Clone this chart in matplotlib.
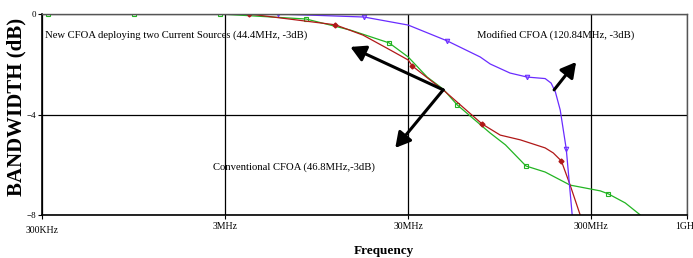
import numpy as np
import matplotlib
matplotlib.use('Agg')
import matplotlib.pyplot as plt
from matplotlib.transforms import ScaledTranslation

plt.rcParams['font.family'] = ['Liberation Serif', 'DejaVu Serif']

# frequency (Hz) / gain (dB)
conv_f = [3.0e5, 3.23e5, 9.55e5, 2.82e6, 8.31e6, 1.45e7, 2.36e7, 3.0e7, 3.81e7, 4.66e7,
          5.56e7, 8.42e7, 1.02e8, 1.32e8, 1.68e8, 2.30e8, 3.36e8, 3.72e8, 4.6e8, 5.56e8]
conv_db = [0, 0, 0, 0, -0.2, -0.64, -1.15, -1.71, -2.51, -2.99,
           -3.62, -4.74, -5.21, -6.05, -6.29, -6.81, -7.04, -7.16, -7.52, -8.0]
conv_mk = [1, 2, 3, 4, 6, 10, 13, 17]

new_f = [3.0e5, 4.05e6, 1.2e7, 1.70e7, 2.39e7, 3.0e7, 3.16e7, 3.96e7, 4.66e7, 7.61e7,
         9.55e7, 1.23e8, 1.68e8, 1.86e8, 2.06e8, 2.30e8, 2.48e8, 2.61e8]
new_db = [0, 0, -0.43, -0.84, -1.43, -1.83, -2.07, -2.63, -3.02, -4.38,
          -4.82, -5.01, -5.33, -5.53, -5.85, -6.81, -7.52, -8.0]
new_mk = [1, 2, 6, 9, 14]

mod_f = [3.0e5, 5.84e6, 1.72e7, 3.0e7, 4.9e7, 7.42e7, 8.42e7, 1.08e8, 1.34e8, 1.68e8,
         1.81e8, 1.91e8, 2.03e8, 2.19e8, 2.36e8]
mod_db = [0, 0, -0.12, -0.44, -1.07, -1.71, -1.99, -2.35, -2.51, -2.57,
          -2.75, -3.10, -3.82, -5.37, -8.0]
mod_mk = [1, 2, 4, 8, 13]

xticks = [3e5, 3e6, 3e7, 3e8, 1e9]
xlabels = ['300KHz', '3MHz', '30MHz', '300MHz', '1GHz']
yticks = [0, -4, -8]

fig = plt.figure(figsize=(6.93, 2.58), dpi=100)
ax = fig.add_axes([42/693, 1-215/258, 645/693, 201/258])

ax.plot(conv_f, conv_db, color='#22b422', lw=0.9, marker='s', ms=3.2, mfc='none',
        mec='#22b422', mew=0.8, markevery=conv_mk)
ax.plot(new_f, new_db, color='#b01818', lw=0.9, marker='D', ms=2.5, mfc='#b01818',
        mec='#b01818', markevery=new_mk)
ax.plot(mod_f, mod_db, color='#6a2cff', lw=0.9, marker='v', ms=3.2, mfc='none',
        mec='#6a2cff', mew=0.8, markevery=mod_mk)

ax.set_xscale('log')
ax.set_xlim(3e5, 1e9)
ax.set_ylim(-8, 0)
ax.set_xticks(xticks)
ax.set_xticklabels(xlabels)
ax.minorticks_off()
ax.set_yticks(yticks)
ax.tick_params(axis='both', labelsize=7, length=3, width=0.8, pad=2, color='black')
ax.tick_params(axis='y', labelsize=6.5, pad=1)
ax.grid(True, color='black', lw=0.9)
for s in ['left', 'bottom']:
    ax.spines[s].set_linewidth(1.2)
for s in ['top', 'right']:
    ax.spines[s].set_color('#555555')
    ax.spines[s].set_linewidth(1.0)

# first label sits a little lower in the original
lab0 = ax.get_xticklabels()[0]
lab0.set_transform(lab0.get_transform() + ScaledTranslation(0, -3/72, fig.dpi_scale_trans))

fig.text(384/693, 1-251/258, 'Frequency', fontsize=9.5, fontweight='bold',
         ha='center', va='center')
fig.text(16/693, 1-107/258, 'BANDWIDTH (dB)', fontsize=15, fontweight='bold',
         ha='center', va='center', rotation=90)

ax.text(3.11e5, -0.84, 'New CFOA deploying two Current Sources (44.4MHz, -3dB)',
        fontsize=7.7, va='center', ha='left')
ax.text(7.14e7, -0.84, 'Modified CFOA (120.84MHz, -3dB)', fontsize=7.7, va='center', ha='left')
ax.text(2.58e6, -6.09, 'Conventional CFOA (46.8MHz,-3dB)', fontsize=7.7, va='center', ha='left')

arr = dict(arrowstyle='-|>,head_length=0.9,head_width=0.5', lw=2.2, color='black',
           shrinkA=0, shrinkB=0)
ax.annotate('', xy=(1.45e7, -1.31), xytext=(4.66e7, -3.02), arrowprops=arr)
ax.annotate('', xy=(2.55e7, -5.33), xytext=(4.66e7, -3.02), arrowprops=arr)
ax.annotate('', xy=(2.48e8, -1.91), xytext=(1.88e8, -3.02), arrowprops=arr)

fig.savefig('out.png', dpi=100)
